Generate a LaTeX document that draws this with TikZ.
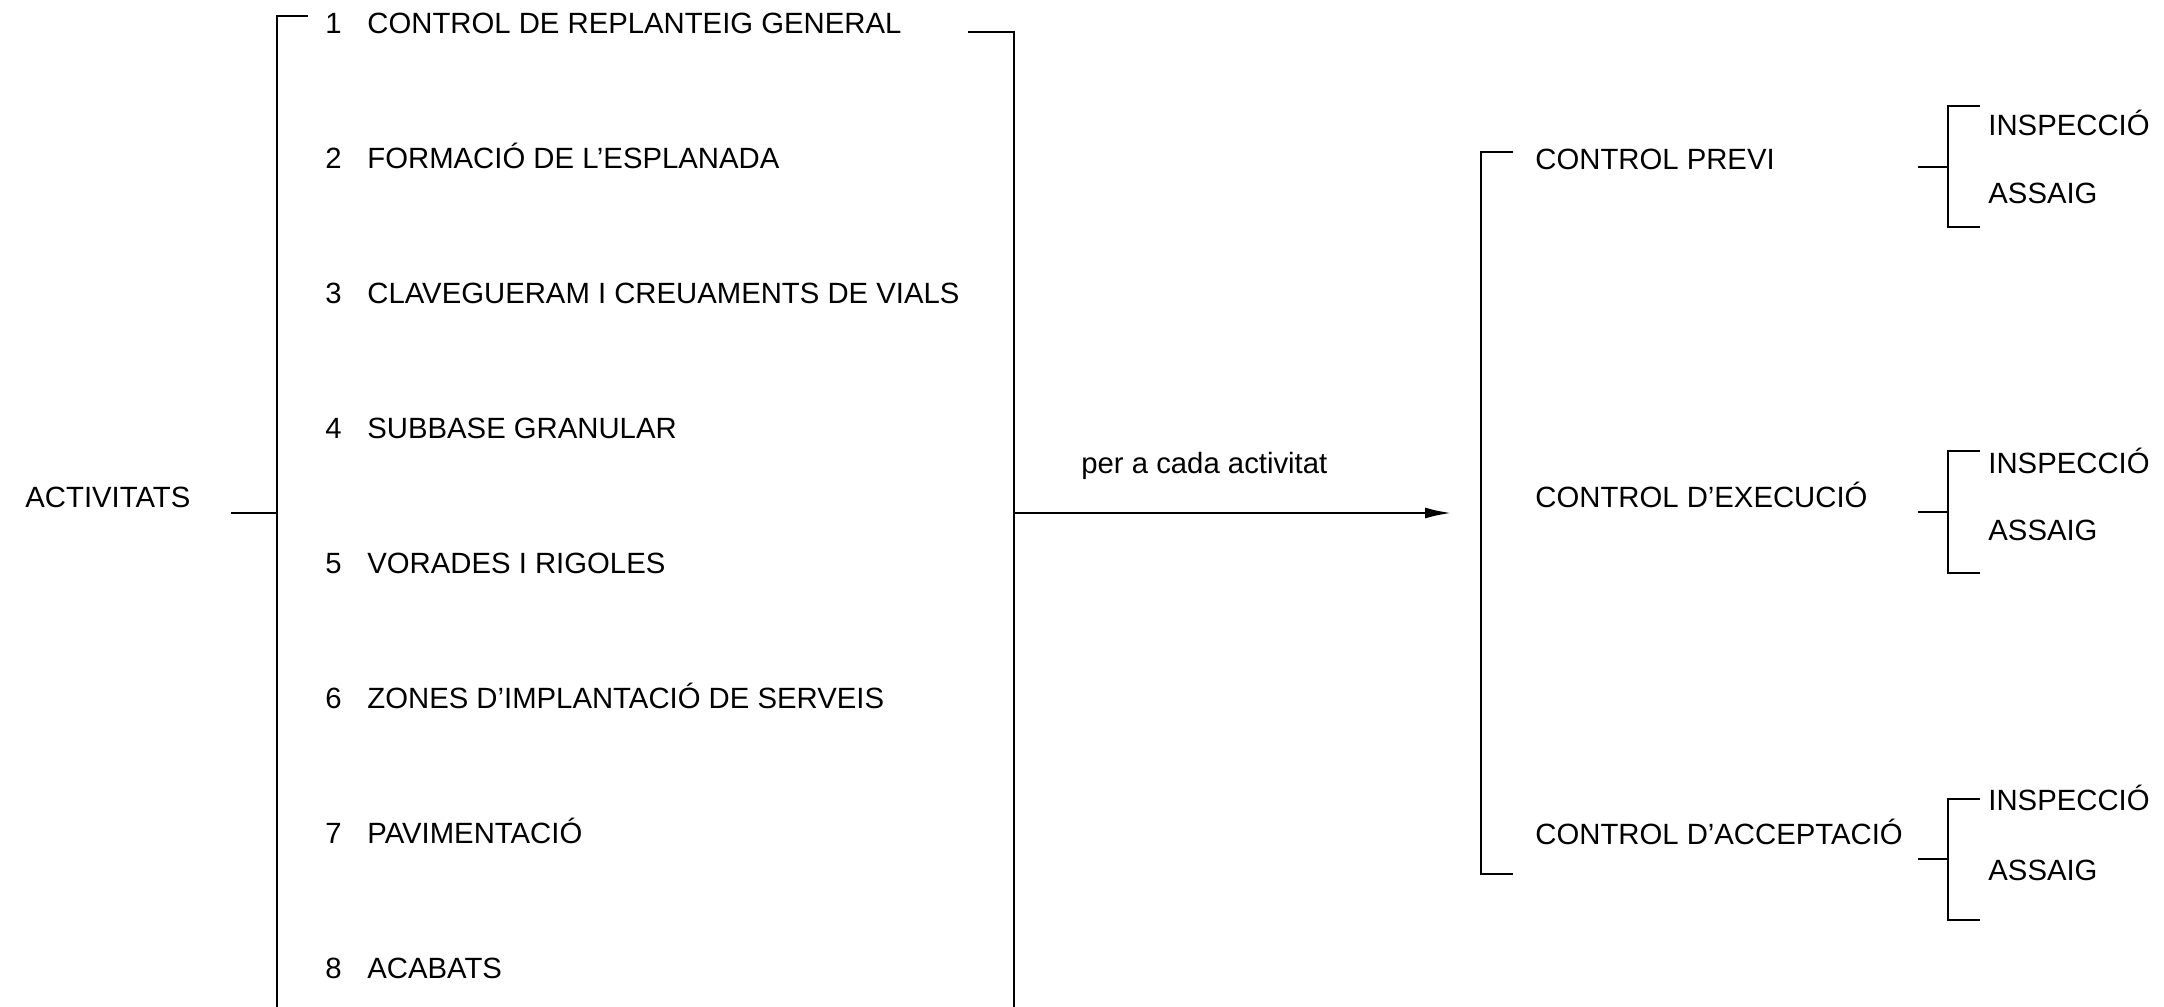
\documentclass[tikz,border=0pt]{standalone}
\usepackage{fontspec}
\setmainfont{Liberation Sans}
\usetikzlibrary{arrows.meta}
\begin{document}
\begin{tikzpicture}[x=0.5pt,y=-0.5pt,
  lbl/.style={anchor=base west,inner sep=0pt,font=\fontsize{14.65}{17}\selectfont},
  ln/.style={line width=1.4pt,line cap=rect},
  arr/.style={line width=1.4pt,-{Latex[length=13.5pt,width=5.5pt]}},
]
\useasboundingbox (0,0) rectangle (2164,1007);

% left group
\node[lbl] (act) at (25,507) {ACTIVITATS};
\coordinate (actE) at (232,513);
\coordinate (lbT) at (277,16);
\coordinate (lbM) at (277,513);
\coordinate (lbB) at (277,1012);
\coordinate (lbTt) at (307,16);

\foreach \i/\txt in {1/CONTROL DE REPLANTEIG GENERAL,2/FORMACIÓ DE L’ESPLANADA,3/CLAVEGUERAM I CREUAMENTS DE VIALS,4/SUBBASE GRANULAR,5/VORADES I RIGOLES,6/ZONES D’IMPLANTACIÓ DE SERVEIS,7/PAVIMENTACIÓ,8/ACABATS}{
  \node[lbl] (n\i) at (325,{33+135*(\i-1)}) {\i};
  \node[lbl] (t\i) at (367,{33+135*(\i-1)}) {\txt};
}

\draw[ln] (lbTt) -- (lbT) -- (lbB);
\draw[ln] (actE) -- (lbM);

\coordinate (rbTt) at (969,32);
\coordinate (rbT) at (1014,32);
\coordinate (rbM) at (1014,513);
\coordinate (rbB) at (1014,1012);
\draw[ln] (rbTt) -- (rbT) -- (rbB);

% arrow
\coordinate (arrE) at (1452,513);
\draw[arr] (rbM) -- (arrE);
\node[lbl] (per) at (1081,473) {per a cada activitat};

% right big bracket
\coordinate (cbTt) at (1512,152);
\coordinate (cbT) at (1481,152);
\coordinate (cbB) at (1481,874);
\coordinate (cbBt) at (1512,874);
\draw[ln] (cbTt) -- (cbT) -- (cbB) -- (cbBt);

\node[lbl] (c1) at (1535,169) {CONTROL PREVI};
\node[lbl] (c2) at (1535,507) {CONTROL D’EXECUCIÓ};
\node[lbl] (c3) at (1535,844) {CONTROL D’ACCEPTACIÓ};

% small brackets
\foreach \k/\top/\mid/\bot/\ins/\ass in {1/106/167/227/135/203, 2/451/512/573/473/540, 3/799/859/920/810/880}{
  \coordinate (s\k S) at (1919,\mid);
  \coordinate (s\k M) at (1948,\mid);
  \coordinate (s\k Tt) at (1979,\top);
  \coordinate (s\k T) at (1948,\top);
  \coordinate (s\k B) at (1948,\bot);
  \coordinate (s\k Bt) at (1979,\bot);
  \draw[ln] (s\k Tt) -- (s\k T) -- (s\k B) -- (s\k Bt);
  \draw[ln] (s\k S) -- (s\k M);
  \node[lbl] (i\k) at (1988,\ins) {INSPECCIÓ};
  \node[lbl] (a\k) at (1988,\ass) {ASSAIG};
}
\end{tikzpicture}
\end{document}
